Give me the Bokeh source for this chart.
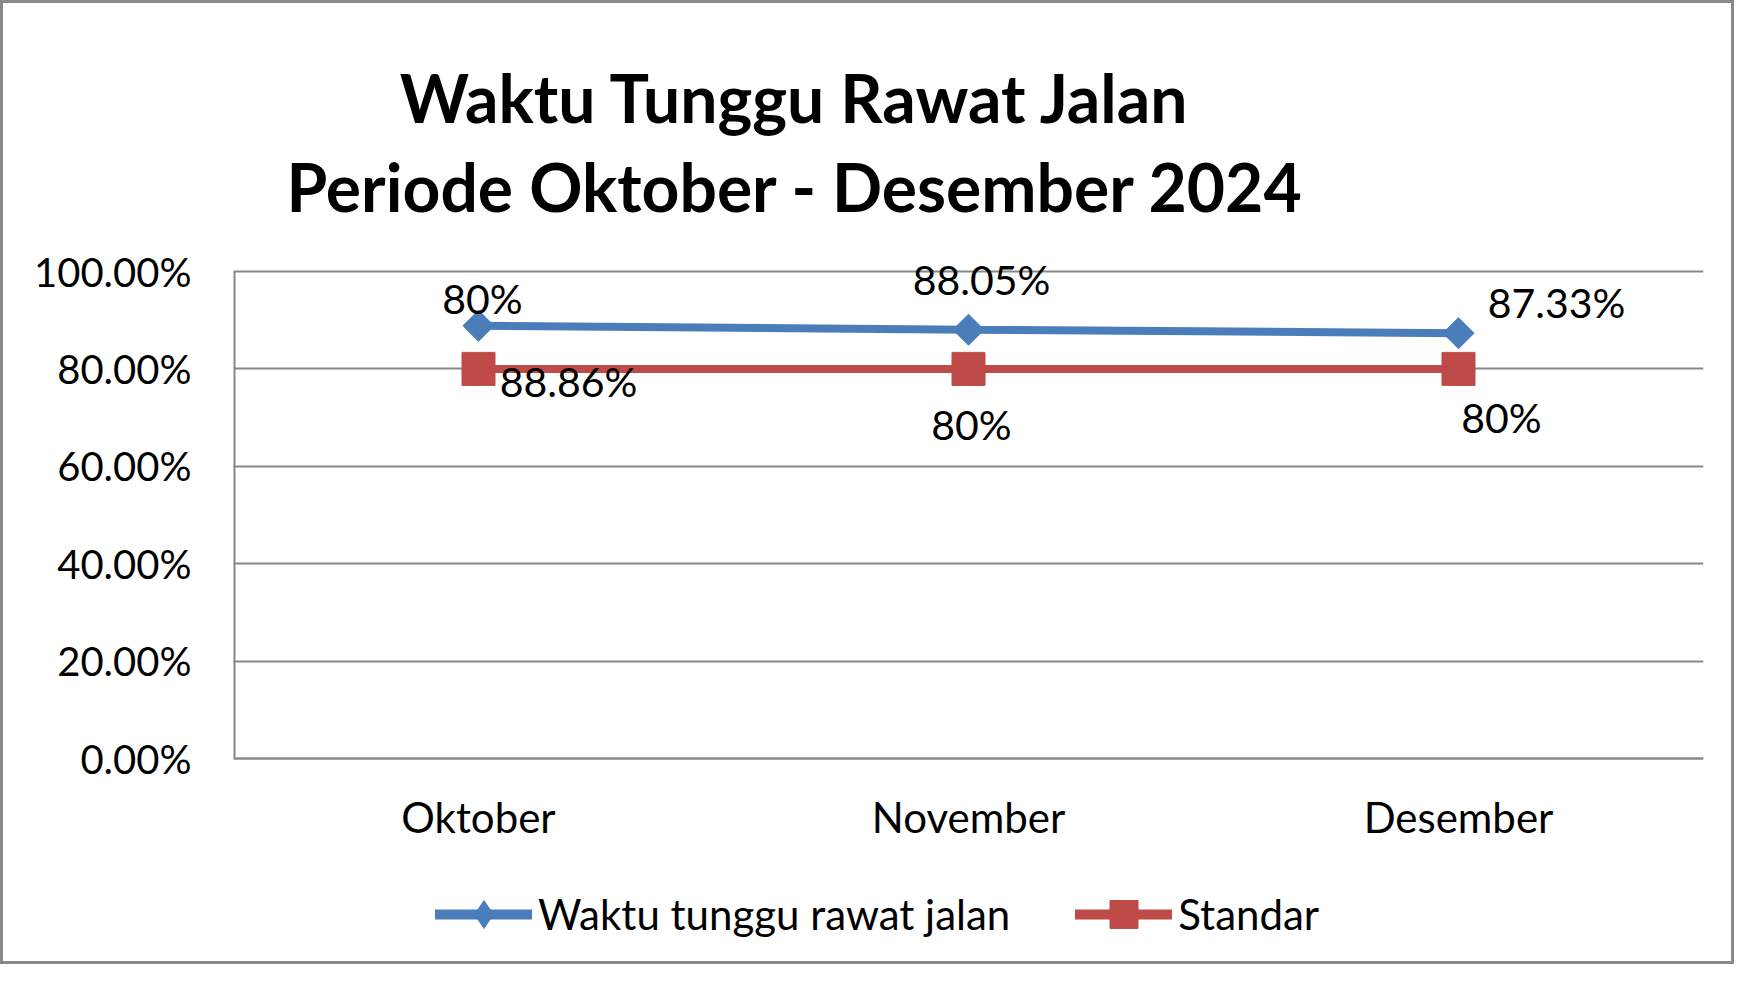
from bokeh.plotting import figure
from bokeh.models import (FactorRange, Range1d, FixedTicker, Label, Legend, LegendItem,
                          ColumnDataSource)
from bokeh.core.properties import value
from bokeh.embed import file_html
from bokeh.resources import INLINE
import math

# ---- data ----
categories = ["Oktober", "November", "Desember"]
waktu_tunggu = [88.86, 88.05, 87.33]
standar = [80, 80, 80]
waktu_labels = ["80%", "88.05%", "87.33%"]
standar_labels = ["88.86%", "80%", "80%"]
y_ticks = [0, 20, 40, 60, 80, 100]
y_tick_labels = ["0.00%", "20.00%", "40.00%", "60.00%", "80.00%", "100.00%"]
title_lines = ["Waktu Tunggu Rawat Jalan", "Periode Oktober - Desember 2024"]
series_names = ["Waktu tunggu rawat jalan", "Standar"]

# ---- style / layout ----
FONT = "Lato"
BLUE = "#4A7EBB"
RED = "#BE4B48"
GRID = "#878787"

W, H = 1734, 964
ZERO_Y = 755                # px from figure top where 0% lies
TOP100 = 268                # px from figure top where 100% lies
AXIS_MAX = 100
ppu = (ZERO_Y - TOP100) / AXIS_MAX
y_start = -(H - ZERO_Y) / ppu
y_end = AXIS_MAX + TOP100 / ppu

p = figure(x_range=FactorRange(*categories), y_range=Range1d(y_start, y_end),
           width=W, height=H, output_backend="svg", toolbar_location=None,
           min_border_left=230, min_border_right=34, min_border_top=0,
           min_border_bottom=0)
p.outline_line_color = None
p.background_fill_color = "white"
p.border_fill_color = "white"
p.styles = {"border": "3px solid #898989"}

# axes
ticker = FixedTicker(ticks=y_ticks)
p.yaxis.ticker = ticker
p.ygrid.ticker = ticker
p.yaxis.major_label_overrides = {t: l for t, l in zip(y_ticks, y_tick_labels)}
p.xaxis.fixed_location = 0
for ax in (p.xaxis[0], p.yaxis[0]):
    ax.axis_line_color = GRID
    ax.axis_line_width = 2
    ax.major_tick_line_color = None
    ax.minor_tick_line_color = None
    ax.major_label_text_font = FONT
    ax.major_label_text_color = "black"
p.yaxis.major_label_text_font_size = "40px"
p.xaxis.major_label_text_font_size = "42px"
p.yaxis.axis_line_color = None
p.yaxis.major_label_standoff = 36
p.xaxis.major_label_standoff = 27
p.xgrid.grid_line_color = None
p.ygrid.grid_line_color = GRID
p.ygrid.grid_line_width = 2

# vertical axis line from 0% to 100% at the frame's left edge
p.segment(x0=0, y0=0, x1=0, y1=AXIS_MAX, line_color=GRID, line_width=4)

src = ColumnDataSource(dict(x=categories, w=waktu_tunggu, s=standar,
                            wl=waktu_labels, sl=standar_labels,
                            wdx=[4, 13, 98], wdy=[-27, -50, -31],
                            sdx=[90, 3, 43], sdy=[13, 56, 49]))

p.line("x", "w", source=src, line_color=BLUE, line_width=8)
p.scatter("x", "w", source=src, marker="square", angle=math.pi / 4, size=22,
          fill_color=BLUE, line_color=BLUE)
p.line("x", "s", source=src, line_color=RED, line_width=8)
p.scatter("x", "s", source=src, marker="square", size=33,
          fill_color=RED, line_color=RED)

p.text("x", "w", text="wl", source=src, x_offset="wdx", y_offset="wdy",
       text_font=value(FONT), text_font_size="41px", text_color="black",
       text_align="center", text_baseline="middle")
p.text("x", "s", text="sl", source=src, x_offset="sdx", y_offset="sdy",
       text_font=value(FONT), text_font_size="41px", text_color="black",
       text_align="center", text_baseline="middle")

# legend-only glyphs (one undrawn NaN point) so the key markers have Excel's legend shapes
key_src = ColumnDataSource(dict(x=[categories[0]], y=[float("nan")]))
lg1 = p.line("x", "y", source=key_src, line_color=BLUE, line_width=10, line_cap="round")
lm1 = p.scatter("x", "y", source=key_src, marker="diamond", fill_color=BLUE, line_color=BLUE)
lg2 = p.line("x", "y", source=key_src, line_color=RED, line_width=10, line_cap="round")
lm2 = p.scatter("x", "y", source=key_src, marker="square", fill_color=RED, line_color=RED)

# title (screen units relative to the frame's bottom-left corner)
for line, ty in zip(title_lines, [H - 94, H - 183]):
    p.add_layout(Label(x=562, y=ty, x_units="screen", y_units="screen", text=line,
                       text_font=FONT, text_font_style="bold", text_font_size="66px",
                       text_align="center", text_baseline="middle", text_color="black"))

legend = Legend(items=[LegendItem(label=series_names[0], renderers=[lg1, lm1], index=0),
                       LegendItem(label=series_names[1], renderers=[lg2, lm2], index=0)],
                orientation="horizontal", location=(202, 18),
                glyph_width=97, glyph_height=70, label_height=70,
                label_standoff=6, spacing=65, padding=0, margin=0,
                border_line_color=None, background_fill_alpha=0,
                label_text_font=FONT, label_text_font_size="42px",
                label_text_color="black")
p.add_layout(legend, "center")

open("out.html", "w").write(file_html(p, INLINE))
